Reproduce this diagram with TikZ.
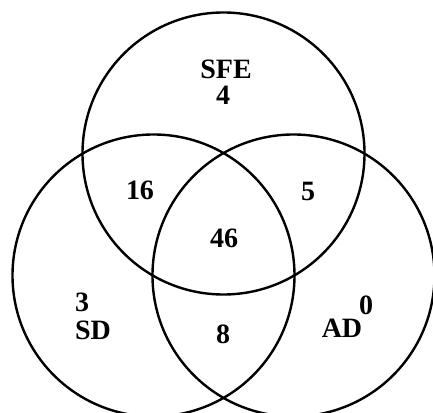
\documentclass[tikz,border=0pt]{standalone}
\usepackage{fontspec}
\setmainfont{Liberation Serif}
\begin{document}
\begin{tikzpicture}[x=0.75pt,y=-0.75pt,
  ring/.style={draw=black,line width=1.8pt,circle,minimum size=282*0.75pt,inner sep=0pt},
  lbl/.style={inner sep=0pt,font=\fontsize{21}{22}\selectfont\bfseries}]
\useasboundingbox (0,0) rectangle (433,413);
\node[ring] (top) at (223.5,153.5) {};
\node[ring] (left) at (153.5,275.5) {};
\node[ring] (right) at (293.5,275.5) {};
\node[lbl] (sfe) at (226,69) {SFE};
\node[lbl] (n4) at (223,95) {4};
\node[lbl] (n16) at (140,190) {16};
\node[lbl] (n5) at (308,191) {5};
\node[lbl] (n46) at (224,238) {46};
\node[lbl] (n3) at (82,302) {3};
\node[lbl] (sd) at (93,330) {SD};
\node[lbl] (n8) at (223,334) {8};
\node[lbl] (ad) at (342,328) {AD};
\node[lbl] (n0) at (366,305) {0};
\end{tikzpicture}
\end{document}
